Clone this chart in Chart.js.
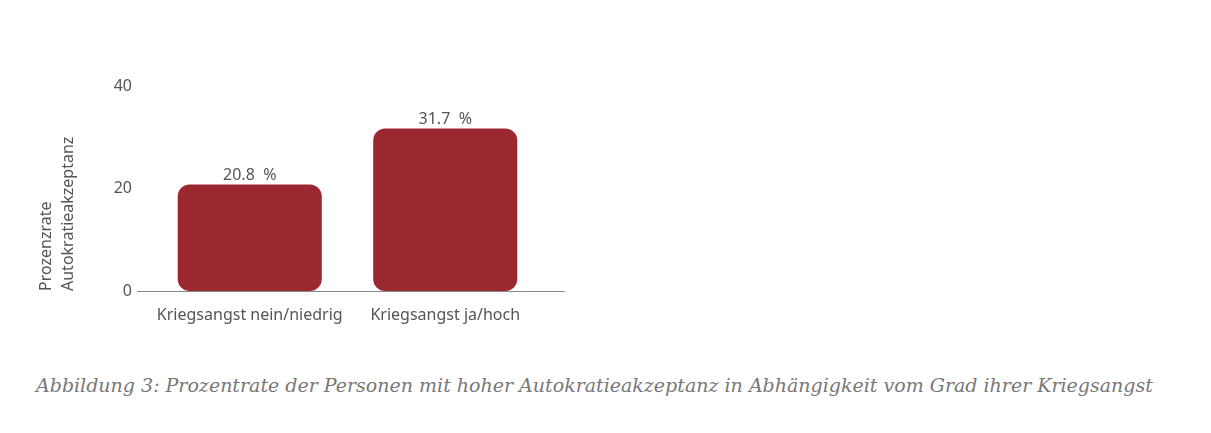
<!DOCTYPE html>
<html>
<head>
<meta charset="utf-8">
<script src="https://cdn.jsdelivr.net/npm/chart.js@4"></script>
<style>
  body { margin: 0; background: #fff; }
  #wrap { position: relative; width: 1211px; height: 433px; }
  #chartBox { position: absolute; left: 0; top: 0; width: 600px; height: 340px; }
  #caption {
    position: absolute; left: 36px; top: 374px; white-space: nowrap;
    font-family: "DejaVu Serif", serif; font-style: italic; font-size: 19px; color: #777;
  }
</style>
</head>
<body>
<div id="wrap">
  <div id="chartBox"><canvas id="myChart"></canvas></div>
  <div id="caption">Abbildung 3: Prozentrate der Personen mit hoher Autokratieakzeptanz in Abhängigkeit vom Grad ihrer Kriegsangst</div>
</div>
<script>
let categories = ["Kriegsangst nein/niedrig", "Kriegsangst ja/hoch"];
let rates = [20.8, 31.7];
let yTicks = [0, 20, 40];
let yTitle = ["Prozenzrate", "Autokratieakzeptanz"];

let textColor = '#555';
let fontFamily = '"Noto Sans", sans-serif';

// value labels above bars
let valueLabels = {
    id: 'valueLabels',
    afterDatasetsDraw(chart) {
        let c = chart.ctx;
        let meta = chart.getDatasetMeta(0);
        c.save();
        c.fillStyle = textColor;
        c.font = '16px ' + fontFamily;
        c.textAlign = 'center';
        c.textBaseline = 'bottom';
        meta.data.forEach((bar, i) => {
            c.fillText(rates[i].toFixed(1) + '  %', bar.x, bar.y - 1);
        });
        c.restore();
    }
};

// baseline reaching a bit past the bars
let baseLine = {
    id: 'baseLine',
    beforeDatasetsDraw(chart) {
        let c = chart.ctx;
        let y = Math.round(chart.scales.y.getPixelForValue(0)) + 0.5;
        c.save();
        c.strokeStyle = '#888';
        c.lineWidth = 1;
        c.beginPath();
        c.moveTo(chart.chartArea.left - 15, y);
        c.lineTo(chart.chartArea.right + 22, y);
        c.stroke();
        c.restore();
    }
};

let ctx = document.getElementById("myChart").getContext('2d');
let myChart = new Chart(ctx, {
    type: 'bar',
    data: {
        labels: categories,
        datasets: [{
            data: rates,
            backgroundColor: '#9b2831',
            borderRadius: 12,
            borderSkipped: false,
            categoryPercentage: 1,
            barPercentage: 0.737
        }]
    },
    options: {
        responsive: true,
        maintainAspectRatio: false,
        animation: false,
        layout: { padding: { top: 86, right: 57, bottom: 0, left: 0 } },
        plugins: {
            legend: { display: false },
            tooltip: { enabled: false }
        },
        scales: {
            x: {
                grid: { display: false },
                border: { display: false },
                ticks: { color: textColor, font: { family: fontFamily, size: 16 }, padding: 7 },
                afterFit: s => { s.height = 49; }
            },
            y: {
                min: 0,
                max: 40,
                afterBuildTicks: s => { s.ticks = yTicks.map(v => ({ value: v })); },
                grid: { display: false },
                border: { display: false },
                ticks: { color: textColor, font: { family: fontFamily, size: 16 }, padding: 12 },
                title: {
                    display: true,
                    text: yTitle,
                    align: 'start',
                    color: textColor,
                    font: { family: fontFamily, size: 16, lineHeight: 1.35 },
                    padding: { top: 36, bottom: 0 }
                },
                afterFit: s => { s.width = 152; }
            }
        }
    },
    plugins: [valueLabels, baseLine]
});
</script>
</body>
</html>
